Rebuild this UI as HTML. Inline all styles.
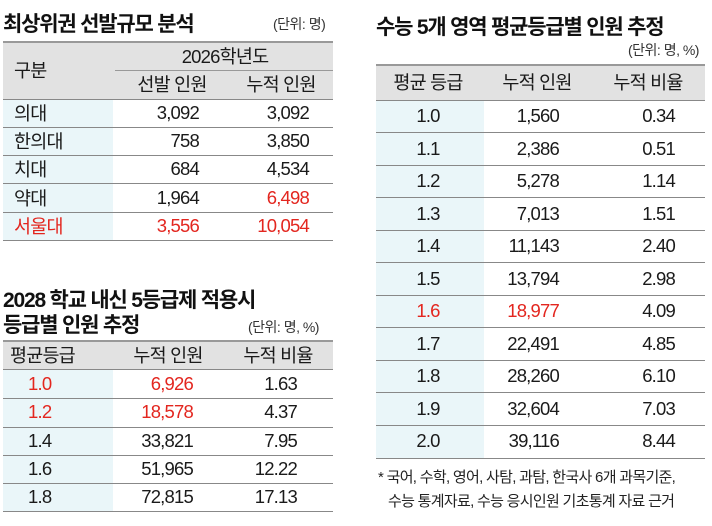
<!DOCTYPE html>
<html><head><meta charset="utf-8"><style>
*{margin:0;padding:0;box-sizing:border-box}
body{width:712px;height:526px;background:#fff;position:relative;overflow:hidden;font-family:"Liberation Sans","Noto Sans CJK KR",sans-serif;color:#1a1a1a}
.a{position:absolute;white-space:nowrap}
.t{font-weight:bold;font-size:21px;letter-spacing:-1.2px;color:#111}
.u{font-size:14px;color:#333;letter-spacing:-0.5px}
.hd{position:absolute;background:#e2e2e2;border-top:2px solid #999;}
.cy{position:absolute;background:#eaf6f9}
.ln{position:absolute;height:1px;background:#888}
.c{font-size:18.5px;letter-spacing:-0.8px;transform:translate(-50%,-50%)}
.r{font-size:18.5px;letter-spacing:-0.8px;transform:translate(-100%,-50%)}
.l{font-size:18.5px;letter-spacing:-0.8px;transform:translate(0,-50%)}
.red{color:#e3261f}
</style></head><body>
<!-- Table 1 -->
<div class="a t" style="left:3px;top:8px">최상위권 선발규모 분석</div>
<div class="a u" style="left:273px;top:14px">(단위: 명)</div>
<div class="hd" style="left:3px;top:41px;width:330px;height:58px"></div>
<div class="ln" style="left:115px;top:70px;width:218px;background:#999"></div>
<div class="cy" style="left:3px;top:99px;width:110px;height:141px"></div>
<div class="ln" style="left:3px;top:99px;width:330px"></div>
<div class="ln" style="left:3px;top:127px;width:330px"></div>
<div class="ln" style="left:3px;top:155px;width:330px"></div>
<div class="ln" style="left:3px;top:183px;width:330px"></div>
<div class="ln" style="left:3px;top:212px;width:330px"></div>
<div class="ln" style="left:3px;top:240px;width:330px"></div>
<div class="a l" style="left:14px;top:70px">구분</div>
<div class="a c" style="left:225px;top:56px">2026학년도</div>
<div class="a c" style="left:172px;top:84px">선발 인원</div>
<div class="a c" style="left:281px;top:84px">누적 인원</div>
<div class="a l" style="left:14px;top:113px">의대</div><div class="a r" style="left:199px;top:113px">3,092</div><div class="a r" style="left:309px;top:113px">3,092</div>
<div class="a l" style="left:14px;top:141px">한의대</div><div class="a r" style="left:199px;top:141px">758</div><div class="a r" style="left:309px;top:141px">3,850</div>
<div class="a l" style="left:14px;top:169px">치대</div><div class="a r" style="left:199px;top:169px">684</div><div class="a r" style="left:309px;top:169px">4,534</div>
<div class="a l" style="left:14px;top:198px">약대</div><div class="a r" style="left:199px;top:198px">1,964</div><div class="a r red" style="left:309px;top:198px">6,498</div>
<div class="a l red" style="left:14px;top:226px">서울대</div><div class="a r red" style="left:199px;top:226px">3,556</div><div class="a r red" style="left:309px;top:226px">10,054</div>

<!-- Table 2 -->
<div class="a t" style="left:3px;top:284px">2028 학교 내신 5등급제 적용시</div>
<div class="a t" style="left:3px;top:309px">등급별 인원 추정</div>
<div class="a u" style="left:248px;top:317px">(단위: 명, %)</div>
<div class="hd" style="left:3px;top:340px;width:330px;height:29px"></div>
<div class="cy" style="left:3px;top:369px;width:110px;height:142px"></div>
<div class="ln" style="left:3px;top:369px;width:330px"></div>
<div class="ln" style="left:3px;top:398px;width:330px"></div>
<div class="ln" style="left:3px;top:427px;width:330px"></div>
<div class="ln" style="left:3px;top:455px;width:330px"></div>
<div class="ln" style="left:3px;top:483px;width:330px"></div>
<div class="ln" style="left:3px;top:511px;width:330px"></div>
<div class="a l" style="left:10px;top:355px">평균등급</div>
<div class="a c" style="left:168px;top:355px">누적 인원</div>
<div class="a c" style="left:278px;top:355px">누적 비율</div>
<div class="a l red" style="left:28px;top:384px">1.0</div><div class="a r red" style="left:193px;top:384px">6,926</div><div class="a r" style="left:297px;top:384px">1.63</div>
<div class="a l red" style="left:28px;top:412px">1.2</div><div class="a r red" style="left:193px;top:412px">18,578</div><div class="a r" style="left:297px;top:412px">4.37</div>
<div class="a l" style="left:28px;top:441px">1.4</div><div class="a r" style="left:193px;top:441px">33,821</div><div class="a r" style="left:297px;top:441px">7.95</div>
<div class="a l" style="left:28px;top:469px">1.6</div><div class="a r" style="left:193px;top:469px">51,965</div><div class="a r" style="left:297px;top:469px">12.22</div>
<div class="a l" style="left:28px;top:497px">1.8</div><div class="a r" style="left:193px;top:497px">72,815</div><div class="a r" style="left:297px;top:497px">17.13</div>

<!-- Table 3 -->
<div class="a t" style="left:376px;top:11px">수능 5개 영역 평균등급별 인원 추정</div>
<div class="a u" style="left:628px;top:40px">(단위: 명, %)</div>
<div class="hd" style="left:376px;top:64px;width:329px;height:36px"></div>
<div class="cy" style="left:376px;top:100px;width:108px;height:358px"></div>
<div class="a c" style="left:428px;top:82px">평균 등급</div>
<div class="a c" style="left:537px;top:82px">누적 인원</div>
<div class="a c" style="left:648px;top:82px">누적 비율</div>

<div class="ln" style="left:376px;top:100px;width:329px"></div>
<div class="ln" style="left:376px;top:132px;width:329px"></div>
<div class="ln" style="left:376px;top:165px;width:329px"></div>
<div class="ln" style="left:376px;top:197px;width:329px"></div>
<div class="ln" style="left:376px;top:230px;width:329px"></div>
<div class="ln" style="left:376px;top:262px;width:329px"></div>
<div class="ln" style="left:376px;top:295px;width:329px"></div>
<div class="ln" style="left:376px;top:327px;width:329px"></div>
<div class="ln" style="left:376px;top:360px;width:329px"></div>
<div class="ln" style="left:376px;top:392px;width:329px"></div>
<div class="ln" style="left:376px;top:425px;width:329px"></div>
<div class="ln" style="left:376px;top:458px;width:329px"></div>

<div class="a c" style="left:428px;top:116px">1.0</div><div class="a r" style="left:559px;top:116px">1,560</div><div class="a r" style="left:675px;top:116px">0.34</div>
<div class="a c" style="left:428px;top:149px">1.1</div><div class="a r" style="left:559px;top:149px">2,386</div><div class="a r" style="left:675px;top:149px">0.51</div>
<div class="a c" style="left:428px;top:181px">1.2</div><div class="a r" style="left:559px;top:181px">5,278</div><div class="a r" style="left:675px;top:181px">1.14</div>
<div class="a c" style="left:428px;top:214px">1.3</div><div class="a r" style="left:559px;top:214px">7,013</div><div class="a r" style="left:675px;top:214px">1.51</div>
<div class="a c" style="left:428px;top:246px">1.4</div><div class="a r" style="left:559px;top:246px">11,143</div><div class="a r" style="left:675px;top:246px">2.40</div>
<div class="a c" style="left:428px;top:279px">1.5</div><div class="a r" style="left:559px;top:279px">13,794</div><div class="a r" style="left:675px;top:279px">2.98</div>
<div class="a c red" style="left:428px;top:311px">1.6</div><div class="a r red" style="left:559px;top:311px">18,977</div><div class="a r" style="left:675px;top:311px">4.09</div>
<div class="a c" style="left:428px;top:344px">1.7</div><div class="a r" style="left:559px;top:344px">22,491</div><div class="a r" style="left:675px;top:344px">4.85</div>
<div class="a c" style="left:428px;top:376px">1.8</div><div class="a r" style="left:559px;top:376px">28,260</div><div class="a r" style="left:675px;top:376px">6.10</div>
<div class="a c" style="left:428px;top:409px">1.9</div><div class="a r" style="left:559px;top:409px">32,604</div><div class="a r" style="left:675px;top:409px">7.03</div>
<div class="a c" style="left:428px;top:441px">2.0</div><div class="a r" style="left:559px;top:441px">39,116</div><div class="a r" style="left:675px;top:441px">8.44</div>

<div class="a" style="left:378px;top:466px;font-size:15px;letter-spacing:-0.7px;color:#222">* 국어, 수학, 영어, 사탐, 과탐, 한국사 6개 과목기준,</div>
<div class="a" style="left:388px;top:490px;font-size:15px;letter-spacing:-0.7px;color:#222">수능 통계자료, 수능 응시인원 기초통계 자료 근거</div>
</body></html>
